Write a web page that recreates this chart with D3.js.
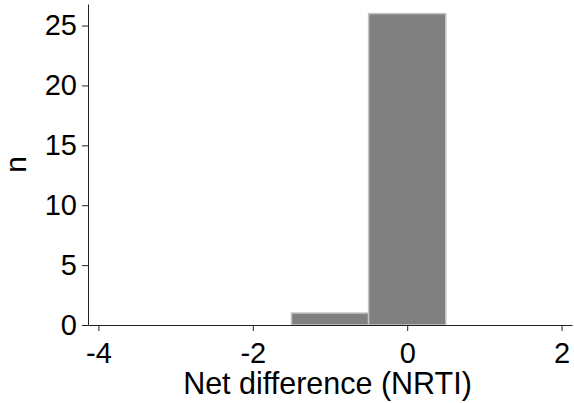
<!DOCTYPE html>
<html>
<head>
<meta charset="utf-8">
<script src="https://cdn.jsdelivr.net/npm/d3@7"></script>
<style>
  body { margin: 0; background: #fff; }
  text { font-family: "Liberation Sans", Arial, sans-serif; }
</style>
</head>
<body>
<div id="chart"></div>
<script>
// Histogram bins (left edge, right edge, count)
const binStarts = [-1.5, -0.5];
const binEnds = [-0.5, 0.5];
const counts = [1, 26];
const xTicks = [-4, -2, 0, 2];
const yTicks = [0, 5, 10, 15, 20, 25];

const width = 574, height = 403;
const margin = { top: 4, right: 2, bottom: 78, left: 88 };

const svg = d3.select("#chart")
    .append("svg")
    .attr("width", width)
    .attr("height", height);

// Scales
const x = d3.scaleLinear().domain([-4.135, 2.135]).range([margin.left, width - margin.right]);
const y = d3.scaleLinear().domain([0, 26.8]).range([325, margin.top]);

// Bars
const bins = counts.map((c, i) => ({ x0: binStarts[i], x1: binEnds[i], n: c }));
svg.selectAll(".bar")
    .data(bins)
    .enter().append("rect")
    .attr("class", "bar")
    .attr("x", d => x(d.x0))
    .attr("width", d => x(d.x1) - x(d.x0))
    .attr("y", d => y(d.n))
    .attr("height", d => y(0) - y(d.n))
    .attr("fill", "#808080")
    .attr("stroke", "#c4c4c4")
    .attr("stroke-width", 1.5);

// X axis (plain hyphen for negatives, like the original)
const xAxis = svg.append("g")
    .attr("transform", "translate(0," + y(0) + ")")
    .call(d3.axisBottom(x).tickValues(xTicks).tickSize(6).tickPadding(11).tickSizeOuter(0).tickFormat(d => String(d)));
xAxis.selectAll("text").style("font-size", "29px").attr("fill", "#000");
xAxis.selectAll("line, path").attr("stroke", "#222");

// Y axis
const yAxis = svg.append("g")
    .attr("transform", "translate(" + margin.left + ",0)")
    .call(d3.axisLeft(y).tickValues(yTicks).tickSize(6).tickPadding(5).tickSizeOuter(0));
yAxis.selectAll("text").style("font-size", "29px").attr("fill", "#000");
yAxis.selectAll("line, path").attr("stroke", "#222");

// Axis titles
svg.append("text")
    .attr("x", 327.5)
    .attr("y", 394)
    .attr("text-anchor", "middle")
    .style("font-size", "30.5px")
    .text("Net difference (NRTI)");

svg.append("text")
    .attr("transform", "translate(26," + y(13.4) + ") rotate(-90)")
    .attr("text-anchor", "middle")
    .style("font-size", "30px")
    .text("n");
</script>
</body>
</html>
